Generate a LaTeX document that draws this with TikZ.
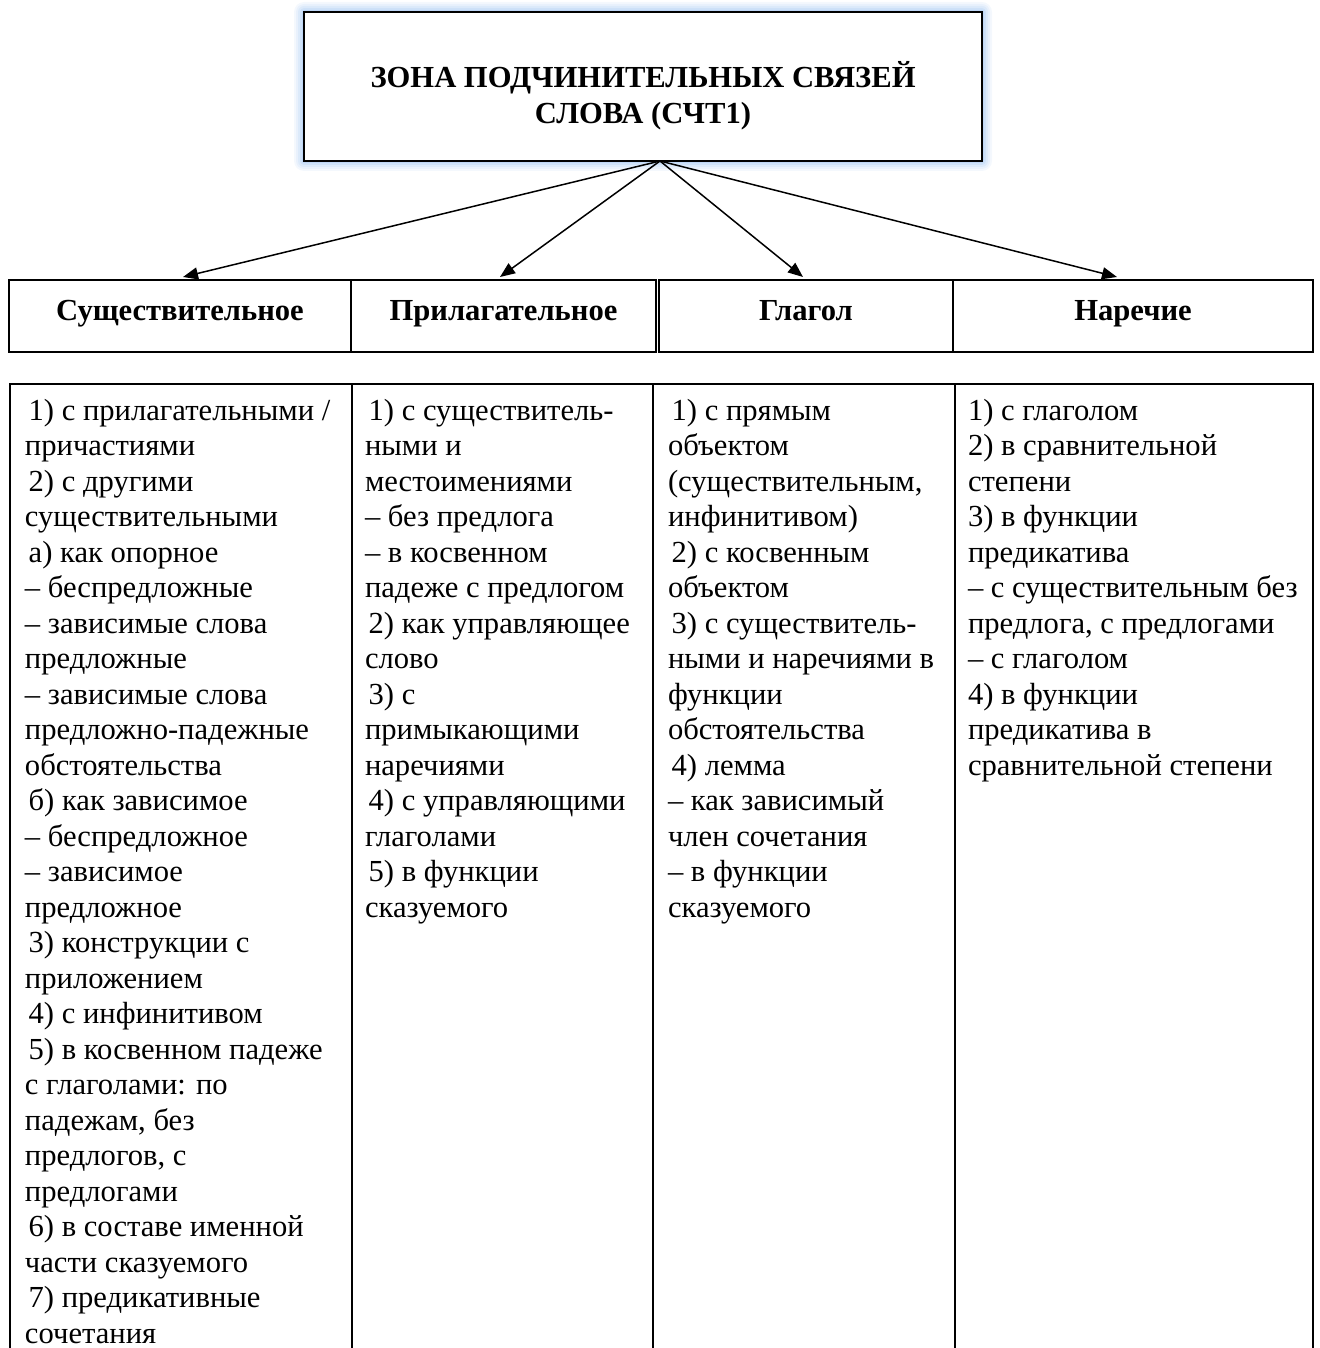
\documentclass[tikz,border=0pt]{standalone}
\usepackage{fontspec}
\setmainfont{Liberation Serif}[BoldFont={Liberation Serif Bold}]
\usetikzlibrary{arrows.meta}
\definecolor{glow}{RGB}{150,190,240}
\newcommand\myind{\hspace*{0.12em}}
\begin{document}
\begin{tikzpicture}[x=0.5pt,y=-0.5pt,
  every node/.style={inner sep=0pt, outer sep=0pt},
  frame/.style={draw=black, line width=1pt},
  head/.style={frame, font=\bfseries\fontsize{15.3}{17.6}\selectfont, minimum height=36pt,
               text height=10.7pt, text depth=6.7pt},
  body/.style={font=\fontsize{15.3}{17.75}\selectfont, anchor=base west},
  link/.style={line width=0.75pt, -{Triangle[length=7.5pt,width=6pt]}},
  cell/.style={frame, anchor=north west, minimum height=500pt}
]
\useasboundingbox (0,0) rectangle (1320,1348);
\clip (0,0) rectangle (1320,1348);

% glow around the title box
\foreach \d/\r/\o in {10/5pt/0.10, 8/4pt/0.12, 6/3pt/0.15, 4/2pt/0.2, 2/1pt/0.3}
  \fill[glow, opacity=\o, rounded corners=\r] (304-\d,12-\d) rectangle (982+\d,161+\d);

% title box and its text
\node[frame, fill=white, minimum width=339pt, minimum height=74.5pt] (title) at (643,86.5) {};
\node[anchor=base, font=\bfseries\fontsize{15.3}{17.6}\selectfont] (titletext) at (643,88)
  {\parbox[t]{330pt}{\centering ЗОНА ПОДЧИНИТЕЛЬНЫХ СВЯЗЕЙ\\СЛОВА (СЧТ1)}};

% header row
\node[head, minimum width=171pt]   (h1) at (180,316)   {Существительное};
\node[head, minimum width=152.5pt] (h2) at (503.5,316) {Прилагательное};
\node[head, minimum width=147pt]   (h3) at (806,316)   {Глагол};
\node[head, minimum width=180pt]   (h4) at (1133,316)  {Наречие};

% arrows
\draw[link] ([xshift=8.5pt]title.south) -- ([xshift=1.5pt,yshift=1.5pt]h1.north);
\draw[link] ([xshift=8.5pt]title.south) -- ([xshift=-1.75pt,yshift=1.5pt]h2.north);
\draw[link] ([xshift=8.5pt]title.south) -- ([xshift=-1.5pt,yshift=1.5pt]h3.north);
\draw[link] ([xshift=8.5pt]title.south) -- ([xshift=-8pt,yshift=1.5pt]h4.north);

% lower table cells
\node[cell, minimum width=171pt]   (c1) at (10,384)  {};
\node[cell, minimum width=150.5pt] (c2) at (352,384) {};
\node[cell, minimum width=151pt]   (c3) at (653,384) {};
\node[cell, minimum width=179pt]   (c4) at (955,384) {};

% cell texts
\node[body] (t1) at (25,420) {\parbox[t]{250pt}{\raggedright
\myind 1) с прилагательными /\\
причастиями\\
\myind 2) с другими\\
существительными\\
\myind а) как опорное\\
– беспредложные\\
– зависимые слова\\
предложные\\
– зависимые слова\\
предложно-падежные\\
обстоятельства\\
\myind б) как зависимое\\
– беспредложное\\
– зависимое\\
предложное\\
\myind 3) конструкции с\\
приложением\\
\myind 4) с инфинитивом\\
\myind 5) в косвенном падеже\\
с глаголами: по\\
падежам, без\\
предлогов, с\\
предлогами\\
\myind 6) в составе именной\\
части сказуемого\\
\myind 7) предикативные\\
сочетания}};

\node[body] (t2) at (365,420) {\parbox[t]{250pt}{\raggedright
\myind 1) с существитель-\\
ными и\\
местоимениями\\
– без предлога\\
– в косвенном\\
падеже с предлогом\\
\myind 2) как управляющее\\
слово\\
\myind 3) с\\
примыкающими\\
наречиями\\
\myind 4) с управляющими\\
глаголами\\
\myind 5) в функции\\
сказуемого}};

\node[body] (t3) at (668,420) {\parbox[t]{250pt}{\raggedright
\myind 1) с прямым\\
объектом\\
(существительным,\\
инфинитивом)\\
\myind 2) с косвенным\\
объектом\\
\myind 3) с существитель-\\
ными и наречиями в\\
функции\\
обстоятельства\\
\myind 4) лемма\\
– как зависимый\\
член сочетания\\
– в функции\\
сказуемого}};

\node[body] (t4) at (968,420) {\parbox[t]{250pt}{\raggedright
1) с глаголом\\
2) в сравнительной\\
степени\\
3) в функции\\
предикатива\\
– с существительным без\\
предлога, с предлогами\\
– с глаголом\\
4) в функции\\
предикатива в\\
сравнительной степени}};
\end{tikzpicture}
\end{document}
